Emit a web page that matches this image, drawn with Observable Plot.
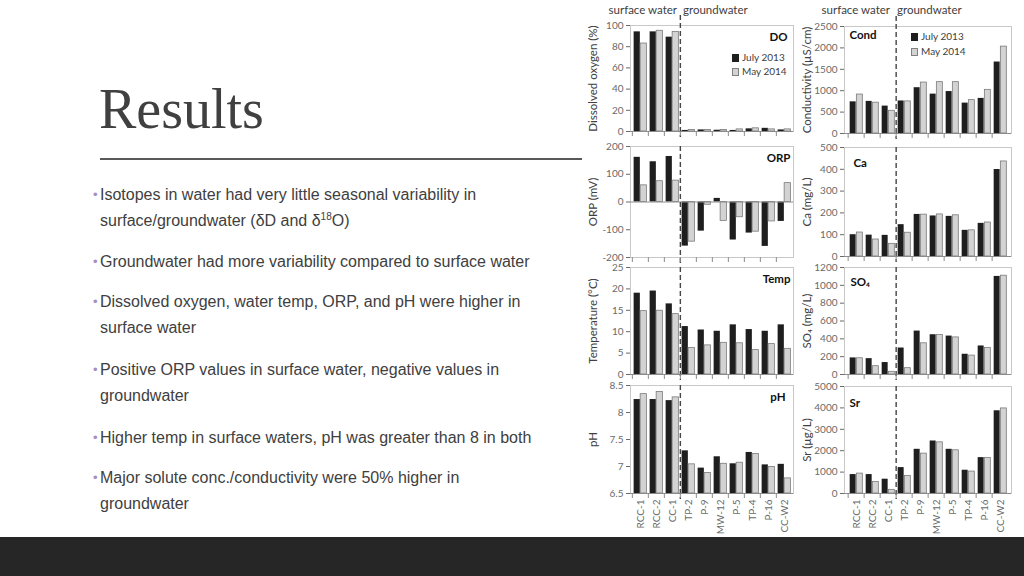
<!DOCTYPE html>
<html><head><meta charset="utf-8">
<script src="https://cdn.jsdelivr.net/npm/d3@7"></script>
<script src="https://cdn.jsdelivr.net/npm/@observablehq/plot@0.6"></script>
<style>
html,body{margin:0;padding:0;}
body{width:1024px;height:576px;background:#fff;position:relative;overflow:hidden;font-family:"Liberation Sans",Arial,sans-serif;}
#title{position:absolute;left:99px;top:81px;font-family:"Liberation Serif",serif;font-size:56px;line-height:56px;color:#404040;}
#rule{position:absolute;left:100px;top:158px;width:482px;height:1.5px;background:#595959;}
.b{position:absolute;left:100px;font-size:16px;line-height:26px;color:#404040;white-space:nowrap;}
.b .dot{position:absolute;left:-7px;top:0;color:#a68cc0;font-size:13px;}
#band{position:absolute;left:0;top:537px;width:1024px;height:39px;background:#262626;}
.pn{position:absolute;}
.hd{position:absolute;font-family:Lato,"Open Sans",sans-serif;font-size:11.5px;color:#404040;line-height:14px;white-space:nowrap;}
.lg{position:absolute;font-family:Lato,"Open Sans",sans-serif;font-size:10px;color:#404040;line-height:14px;white-space:nowrap;}
.sw{display:inline-block;width:7px;height:8px;margin-right:3px;vertical-align:-1px;box-sizing:border-box;}
.sj{background:#1e1e1e;}
.sm{background:#d3d3d3;border:1px solid #808080;}
</style></head>
<body>
<div id="title">Results</div>
<div id="rule"></div>
<div class="b" style="top:182px"><span class="dot">•</span>Isotopes in water had very little seasonal variability in<br>surface/groundwater (δD and δ<sup style="font-size:10px;line-height:0">18</sup>O)</div>
<div class="b" style="top:249px"><span class="dot">•</span>Groundwater had more variability compared to surface water</div>
<div class="b" style="top:289px"><span class="dot">•</span>Dissolved oxygen, water temp, ORP, and pH were higher in<br>surface water</div>
<div class="b" style="top:357px"><span class="dot">•</span>Positive ORP values in surface water, negative values in<br>groundwater</div>
<div class="b" style="top:425px"><span class="dot">•</span>Higher temp in surface waters, pH was greater than 8 in both</div>
<div class="b" style="top:465px"><span class="dot">•</span>Major solute conc./conductivity were 50% higher in<br>groundwater</div>
<div id="band"></div>

<div class="hd" style="right:347px;top:3px">surface water</div>
<div class="hd" style="left:683px;top:3px">groundwater</div>
<div class="hd" style="right:134px;top:3px">surface water</div>
<div class="hd" style="left:897px;top:3px">groundwater</div>

<div id="charts"></div>

<div class="lg" style="left:732px;top:50px"><span class="sw sj"></span>July 2013</div>
<div class="lg" style="left:732px;top:64px"><span class="sw sm"></span>May 2014</div>
<div class="lg" style="left:911px;top:29px"><span class="sw sj"></span>July 2013</div>
<div class="lg" style="left:911px;top:44px"><span class="sw sm"></span>May 2014</div>

<script>
const sites = ["RCC-1","RCC-2","CC-1","TP-2","P-9","MW-12","P-5","TP-4","P-16","CC-W2"];
const seasons = ["July 2013","May 2014"];

const doJuly = [94,94,89,1,1.5,1.2,1,2.5,3,1.5];
const doMay = [83,95,94,1.5,1.5,1.5,2,3,2,2];
const condJuly = [740,750,640,760,1070,920,980,710,820,1670];
const condMay = [910,720,530,750,1190,1200,1200,780,1020,2030];
const orpJuly = [161,145,164,-159,-105,13,-137,-112,-160,-70];
const orpMay = [60,75,77,-143,-10,-68,-55,-107,-70,68];
const caJuly = [100,98,97,146,193,186,184,120,152,399];
const caMay = [110,78,58,109,192,193,189,120,156,436];
const tempJuly = [19.0,19.5,16.5,11.2,10.4,10.1,11.6,10.5,10.1,11.6];
const tempMay = [14.8,14.9,14.1,6.2,6.8,7.4,7.3,5.7,7.1,6.0];
const so4July = [186,178,134,297,487,446,431,227,320,1100];
const so4May = [182,93,30,71,350,442,416,212,297,1108];
const phJuly = [8.24,8.24,8.22,7.29,6.97,7.18,7.05,7.26,7.03,7.04];
const phMay = [8.34,8.38,8.28,7.04,6.88,7.05,7.07,7.23,6.99,6.78];
const srJuly = [885,885,668,1211,2065,2453,2065,1087,1677,3866];
const srMay = [930,543,171,823,1863,2391,2019,1025,1661,3975];

const doTicks = [0,20,40,60,80,100];
const condTicks = [0,500,1000,1500,2000,2500];
const orpTicks = [-200,-100,0,100,200];
const caTicks = [0,100,200,300,400,500];
const tempTicks = [0,5,10,15,20,25];
const so4Ticks = [0,200,400,600,800,1000,1200];
const phTicks = [6.5,7,7.5,8,8.5];
const srTicks = [0,1000,2000,3000,4000,5000];

const panels = [
  {name:"DO", label:"Dissolved oxygen (%)", july:doJuly, may:doMay, ticks:doTicks, col:0, top:25, h:106, anchor:"top-right", dx:-6, dy:7, ext:-10},
  {name:"Cond", label:"Conductivity (µS/cm)", july:condJuly, may:condMay, ticks:condTicks, col:1, top:26, h:107, anchor:"top-left", dx:5, dy:4, ext:-10},
  {name:"ORP", label:"ORP (mV)", july:orpJuly, may:orpMay, ticks:orpTicks, col:0, top:146, h:111, anchor:"top-right", dx:-3, dy:7, ext:0, zero:true},
  {name:"Ca", label:"Ca (mg/L)", july:caJuly, may:caMay, ticks:caTicks, col:1, top:147, h:109, anchor:"top-left", dx:9, dy:11, ext:0},
  {name:"Temp", label:"Temperature (°C)", july:tempJuly, may:tempMay, ticks:tempTicks, col:0, top:267, h:107, anchor:"top-right", dx:-3, dy:7, ext:0},
  {name:"SO₄", label:"SO₄ (mg/L)", july:so4July, may:so4May, ticks:so4Ticks, col:1, top:267, h:107, anchor:"top-left", dx:6, dy:10, ext:0},
  {name:"pH", label:"pH", july:phJuly, may:phMay, ticks:phTicks, col:0, top:385, h:108, anchor:"top-right", dx:-8, dy:7, ext:0, clamp:true, bottom:true},
  {name:"Sr", label:"Sr (µg/L)", july:srJuly, may:srMay, ticks:srTicks, col:1, top:386, h:107, anchor:"top-left", dx:5, dy:12, ext:0, bottom:true}
];

const cols = [{left:583, plotW:163, mr:4}, {left:797, plotW:167, mr:6}];
const ML = 47, MT = 20;
const host = document.getElementById("charts");

for (const p of panels) {
  const c = cols[p.col];
  const rows = sites.map((s, i) => ({site: s, july: p.july[i], may: p.may[i]}));
  const bw = c.plotW / sites.length, half = bw / 2, outer = bw * 0.1;
  const MB = p.bottom ? 46 : 10;
  const dom = [p.ticks[0], p.ticks[p.ticks.length - 1]];
  const marks = [
    Plot.frame({stroke: "#c8c8c8"}),
    Plot.barY(rows, {x: "site", y: "july", fill: "#1e1e1e", insetLeft: outer, insetRight: half, title: d => seasons[0]}),
    Plot.barY(rows, {x: "site", y: "may", fill: "#d3d3d3", stroke: "#7a7a7a", strokeWidth: 0.8, insetLeft: half, insetRight: outer, title: d => seasons[1]}),
    Plot.ruleY([p.zero ? 0 : dom[0]], {stroke: "#8c8c8c"}),
    Plot.ruleX(["TP-2"], {dx: -half, stroke: "#444", strokeWidth: 1.4, strokeDasharray: "5,3", insetTop: p.ext, insetBottom: -6}),
    Plot.axisY({ticks: p.ticks, tickSize: 4, tickPadding: 3, tickFormat: d => String(d), label: null, color: "#6a6a6a", fontSize: 10}),
    Plot.axisX({tickSize: 5, tickFormat: () => "", label: null, dx: -half, color: "#8c8c8c"}),
    Plot.text([p.name], {text: d => d, frameAnchor: p.anchor, dx: p.dx, dy: p.dy, fontWeight: "bold", fontSize: 11.5, fill: "#111"}),
    Plot.text([p.label], {text: d => d, frameAnchor: "left", textAnchor: "middle", rotate: -90, dx: -37, fontSize: 11.5, fill: "#404040"})
  ];
  if (p.bottom) marks.push(Plot.axisX({tickSize: 0, tickRotate: -90, tickPadding: 6, label: null, color: "#6a6a6a", fontSize: 10}));
  const svg = Plot.plot({
    width: ML + c.plotW + c.mr,
    height: MT + p.h + MB,
    marginLeft: ML, marginRight: c.mr, marginTop: MT, marginBottom: MB,
    style: {fontFamily: "Lato, 'Open Sans', sans-serif", fontSize: "10px", background: "transparent", overflow: "visible"},
    x: {domain: sites, padding: 0},
    y: {domain: dom, clamp: !!p.clamp},
    marks
  });
  const div = document.createElement("div");
  div.className = "pn";
  div.style.left = c.left + "px";
  div.style.top = (p.top - MT) + "px";
  div.appendChild(svg);
  host.appendChild(div);
}
</script>
</body></html>
